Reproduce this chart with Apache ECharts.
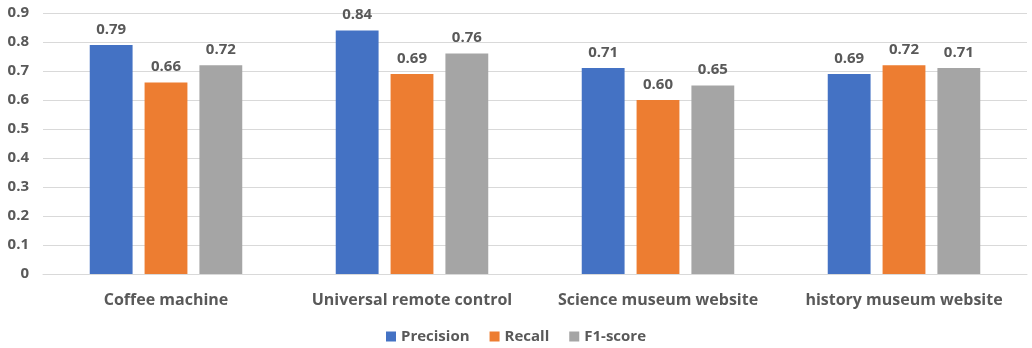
<!DOCTYPE html>
<html>
<head>
<meta charset="utf-8">
<script src="https://cdn.jsdelivr.net/npm/echarts@6/dist/echarts.min.js"></script>
<style>
  html, body { margin: 0; padding: 0; background: #fff; }
  #chart { width: 1032px; height: 348px; }
</style>
</head>
<body>
<div id="chart"></div>
<script>
const categories = ['Coffee machine', 'Universal remote control', 'Science museum website', 'history museum website'];
const precision = [0.79, 0.84, 0.71, 0.69];
const recall = [0.66, 0.69, 0.60, 0.72];
const f1score = [0.72, 0.76, 0.65, 0.71];

const textColor = '#595959';
const fontFamily = '"Open Sans", "Liberation Sans", sans-serif';

function barSeries(name, data, color) {
  return {
    name: name,
    type: 'bar',
    data: data,
    barGap: '28%',
    barCategoryGap: '38%',
    itemStyle: { color: color },
    label: {
      show: true,
      position: 'top',
      distance: 8,
      color: textColor,
      fontWeight: 'bold',
      fontSize: 15,
      fontFamily: fontFamily,
      formatter: p => p.value.toFixed(2)
    }
  };
}

const chart = echarts.init(document.getElementById('chart'));
chart.setOption({
  animation: false,
  textStyle: { fontFamily: fontFamily },
  grid: { left: 43, right: 5, top: 13, bottom: 74 },
  legend: {
    bottom: -1,
    left: 'center',
    icon: 'rect',
    itemWidth: 10,
    itemHeight: 10,
    itemGap: 20,
    textStyle: { color: textColor, fontWeight: 'bold', fontSize: 15, fontFamily: fontFamily }
  },
  xAxis: {
    type: 'category',
    data: categories,
    axisLine: { show: true, lineStyle: { color: '#d9d9d9' } },
    axisTick: { show: false },
    axisLabel: { interval: 0, color: textColor, fontWeight: 'bold', fontSize: 16, margin: 18, fontFamily: fontFamily }
  },
  yAxis: {
    type: 'value',
    min: 0,
    max: 0.9,
    interval: 0.1,
    axisLine: { show: false },
    axisTick: { show: false },
    splitLine: { lineStyle: { color: '#d9d9d9' } },
    axisLabel: {
      color: textColor,
      fontWeight: 'bold',
      fontSize: 15,
      margin: 14,
      fontFamily: fontFamily,
      formatter: v => v === 0 ? '0' : v.toFixed(1)
    }
  },
  series: [
    barSeries('Precision', precision, '#4472C4'),
    barSeries('Recall', recall, '#ED7D31'),
    barSeries('F1-score', f1score, '#A5A5A5')
  ]
});
</script>
</body>
</html>
